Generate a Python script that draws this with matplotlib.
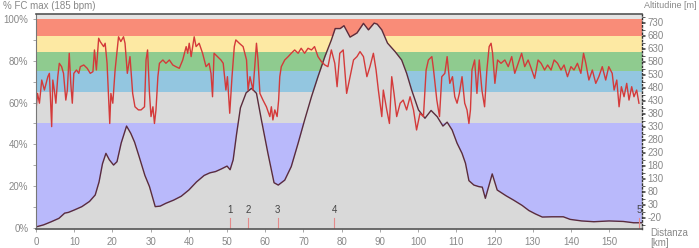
import matplotlib
matplotlib.use('Agg')
import matplotlib.pyplot as plt
from matplotlib.ticker import MultipleLocator

plt.rcParams['font.family'] = ['Liberation Sans', 'DejaVu Sans']
plt.rcParams['axes.unicode_minus'] = False

# altitude profile [km], [m]
alt_km = [0, 2, 4, 6, 7.5, 8.5, 10, 12, 14, 15.5, 16.5, 17.4, 18.3, 19.2, 20.3, 21.2,
          22.3, 23.7, 24.8, 25.8, 27, 28.5, 29.7, 31.2, 32.5, 34, 36, 38, 40, 42, 44,
          45.5, 47, 48.5, 50, 50.8, 51.6, 52.5, 53.5, 55, 56.4, 57.7, 59, 60.7, 62.3,
          63.4, 65.1, 66.8, 68.6, 70.3, 72.1, 73.8, 75.6, 77.3, 78.3, 79.6, 80.6, 82.2,
          84, 85.7, 87, 88.5, 89.3, 90.5, 92, 94, 95.7, 97, 98.3, 100.1, 101.8, 103.4,
          105, 106.5, 107.6, 108.9, 110.2, 111.5, 112.4, 113.3, 114.6, 115.9, 116.8,
          117.6, 119.4, 120.7, 123, 125, 127.2, 129, 130.7, 132.5, 135, 138, 139.8,
          142.8, 146, 150, 153.7, 156.4, 158.6]
alt_m = [-58, -50, -38, -25, -5, -2, 7, 20, 40, 65, 115, 185, 225, 200, 180, 193,
         265, 330, 302, 268, 212, 140, 97, 20, 22, 33, 45, 60, 84, 115, 140,
         150, 155, 165, 176, 162, 200, 300, 400, 458, 475, 456, 353, 225, 112,
         103, 122, 174, 264, 353, 443, 520, 597, 661, 705, 705, 716, 672,
         688, 725, 700, 726, 722, 700, 649, 616, 584, 533, 469, 392, 360, 390,
         366, 330, 345, 315, 264, 225, 187, 120, 103, 97, 95,
         52, 146, 84, 62, 45, 25, 5, -8, -20, -19, -19, -29,
         -35, -38, -35, -37, -42, -42]

# heart rate [km], [% FC max]
hr_km = [0, 0.4, 0.9, 1.5, 2.2, 3.1, 3.5, 4.1, 4.4, 4.8, 5.2, 5.7, 6.1, 6.7, 7.2, 7.8,
         8.2, 8.7, 9.1, 9.5, 9.9, 10.6, 11.2, 11.6, 12.5, 13.4, 14.2, 14.9, 15.3, 15.8,
         16.4, 16.8, 17.7, 18.1, 18.6, 19.3, 19.6, 20.1, 20.7, 21.6, 22.2, 22.9, 23.3,
         23.9, 24.6, 25.3, 25.9, 26.8, 27.5, 28.4, 28.8, 29.2, 29.7, 30.1, 30.6, 31,
         31.4, 31.9, 32.3, 33.2, 34, 34.9, 35.8, 36.6, 37.5, 38.4, 39.3, 39.7, 40.1,
         40.6, 41.4, 41.9, 42.7, 43.6, 44.5, 45.3, 45.8, 46.2, 46.6, 47.5, 48.4, 49,
         49.7, 50.1, 50.7, 51.3, 51.9, 52.3, 53.2, 54.2, 55.1, 55.5, 56, 56.8, 57.7,
         58.1, 58.6, 59.4, 60.3, 61.2, 61.6, 62, 62.5, 63.1, 63.5, 63.8, 64.2, 65.1,
         66, 66.8, 67.7, 68.6, 69.4, 70.3, 71.2, 72.1, 72.9, 73.8, 74.7, 75.6, 76.4,
         77.3, 78.2, 78.8, 79.5, 80.4, 81.3, 82.2, 83.1, 84, 84.8, 85.7, 86.6, 87.4,
         88.3, 89, 89.6, 90.5, 90.9, 91.8, 92.5, 93.1, 93.7, 94.4, 95.3, 96.1, 97,
         97.9, 98.8, 99.6, 100.5, 101.4, 102.1, 102.7, 103.6, 104, 104.9, 105.6,
         106.2, 107, 107.6, 108.3, 109, 109.6, 110.2, 110.8, 111.5, 112.2, 112.8,
         113.3, 113.7, 114.1, 114.8, 115.4, 116, 116.7, 117.4, 118, 118.6, 119.1,
         119.5, 120.1, 120.8, 121.7, 122.7, 123.6, 124.5, 125.3, 126.2, 127.1, 127.9,
         128.8, 129.6, 130.5, 131.4, 132.2, 133.1, 133.9, 134.8, 135.6, 136.5, 137.4,
         138.2, 139.1, 140, 140.8, 141.7, 142.6, 143.3, 143.9, 144.7, 145.6, 146.5,
         147.3, 148.2, 149.1, 149.9, 150.8, 151.3, 152, 152.6, 153.2, 153.9, 154.6,
         155.2, 155.9, 156.5, 157.2, 157.8]
hr_pct = [56.5, 64.4, 59.7, 70.8, 66, 72.4, 74, 48.5, 70.8, 66, 59.7, 72.4, 78.8, 77.2,
          74, 61.2, 66, 83.6, 69.2, 59.7, 74, 75.6, 74, 77.2, 78, 76.4, 74, 74.8, 85.2,
          75.6, 90.8, 89.2, 86.8, 88.4, 78.8, 50, 64.4, 59.7, 75.6, 91.5, 89.2, 91.5,
          88.4, 74, 82, 64.4, 58, 56.5, 56.5, 58, 80.4, 85.2, 64.4, 53.3, 58, 50,
          56.5, 72.4, 78.8, 80.4, 78.8, 80.4, 78, 77.2, 76.4, 80.4, 86.8, 83.6, 88.4,
          82, 91.5, 86.8, 88.4, 83.6, 77.2, 78.8, 74, 62.8, 83.6, 82, 80.4, 78.8,
          66, 72.4, 54.9, 72.4, 86.8, 90, 88.4, 86.8, 80.4, 66, 72.4, 66, 88.4,
          80.4, 64.4, 61.2, 58, 53.3, 58, 51.7, 56.5, 53.3, 61.2, 72.4, 77.2, 80.4,
          82, 83.6, 85.2, 83.6, 86, 83.6, 86, 85.2, 86.8, 82, 79.6, 78, 77.2,
          85.2, 78.8, 67.6, 83.6, 85.2, 64.4, 72.4, 80.4, 82, 84.4, 82, 72.4, 77.2,
          83.6, 75.6, 66, 53.3, 66, 56.5, 50, 72.4, 64.4, 53.3, 59.7, 61.2, 56.5,
          62.8, 56.5, 46.9, 54.9, 53.3, 75.6, 80.4, 82, 76.4, 61.2, 53.3,
          72.4, 74, 82, 69.2, 72.4, 62.8, 59.7, 64.4, 72.4, 59.7, 56.5,
          50, 56.5, 75.6, 80.4, 64.4, 80.4, 66, 58, 75.6, 86.8, 88.4,
          83.6, 69.2, 80.4, 78.8, 80.4, 77.2, 82, 74, 78.8, 83.6, 77.2,
          80.4, 76.4, 71.6, 80.4, 78.8, 75.6, 78, 75.6, 80.4, 78.8, 75.6,
          78, 72.4, 77.2, 75.6, 78.8, 74, 83.6, 78.8, 70.8, 75.6, 69.2,
          72.4, 77.2, 70.8, 77.2, 74, 66, 70.8, 58, 67.6, 62.8, 69.2,
          61.2, 67.6, 62.8, 66, 59.7]

# heart rate zones [% FC max]
zone_edges = [0, 50, 65, 75, 84, 92, 100]
zone_colors = ['#b9b9fb', '#dadada', '#93c6e0', '#8fcb8f', '#fde9a3', '#f98c78']

# lap markers
lap_km = [50.8, 55.6, 63.3, 78.1, 157.9]
lap_labels = ['1', '2', '3', '4', '5']

fig = plt.figure(figsize=(6.99, 2.48), dpi=100)
ax = fig.add_axes([36 / 699, 1 - 229 / 248, 606 / 699, 215 / 248])
ax.set_facecolor('#e4e4e4')
for lo, hi, c in zip(zone_edges[:-1], zone_edges[1:], zone_colors):
    ax.axhspan(lo, hi, color=c, lw=0)
ax.set_xlim(0, 158.6)
ax.set_ylim(-0.5, 102.4)
ax.xaxis.set_major_locator(MultipleLocator(10))
ax.yaxis.set_minor_locator(MultipleLocator(10))
ax.set_yticks(range(0, 101, 20), [f'{v}%' for v in range(0, 101, 20)])
ax.tick_params(colors='#999999', labelcolor='#888888', labelsize=7, length=2, width=0.6)
ax.tick_params(which='minor', colors='#999999', length=2, width=0.6)
for s in ax.spines.values():
    s.set_visible(False)

# altitude axis
axa = ax.twinx()
axa.set_ylim(-66, 761)
axa.fill_between(alt_km, alt_m, -66, color='#d9d9d9', lw=0)
axa.plot(alt_km, alt_m, color='#5a2c3c', lw=1.0)
axa.set_yticks(range(-20, 731, 50))
axa.yaxis.set_minor_locator(MultipleLocator(25))
axa.tick_params(colors='#444444', labelcolor='#888888', labelsize=7, length=2, width=0.6, pad=2)
axa.tick_params(which='minor', colors='#444444', length=2, width=0.6)
for s in ['left', 'top', 'bottom']:
    axa.spines[s].set_visible(False)
axa.spines['right'].set_linestyle(':')
axa.spines['right'].set_color('#333333')
axa.spines['right'].set_linewidth(1)

# heart rate axis on top
axh = ax.twinx()
axh.set_ylim(ax.get_ylim())
axh.yaxis.set_visible(False)
axh.plot(hr_km, hr_pct, color='#d43a3a', lw=1.0)
for k, lab in zip(lap_km, lap_labels):
    axh.plot([k, k], [0, 4.8], color='#e58a8a', lw=0.8)
    axh.text(k, 8.5, lab, ha='center', va='center', fontsize=7, color='#444444')
axh.spines['right'].set_visible(False)
axh.spines['top'].set_color('#555555')
axh.spines['top'].set_linewidth(1.2)
axh.spines['left'].set_color('#777777')
axh.spines['left'].set_linewidth(0.8)
axh.spines['bottom'].set_color('#555555')
axh.spines['bottom'].set_linewidth(1.2)

fig.text(3 / 699, 1 - 6 / 248, '% FC max (185 bpm)', fontsize=7, color='#888888', va='center')
fig.text(697 / 699, 1 - 6 / 248, 'Altitudine [m]', fontsize=6.5, color='#888888',
         va='center', ha='right')
fig.text(650 / 699, 1 - 233 / 248, 'Distanza', fontsize=7, color='#888888', va='center')
fig.text(650 / 699, 1 - 243 / 248, '[km]', fontsize=7, color='#888888', va='center')

fig.savefig('out.png', dpi=100)
